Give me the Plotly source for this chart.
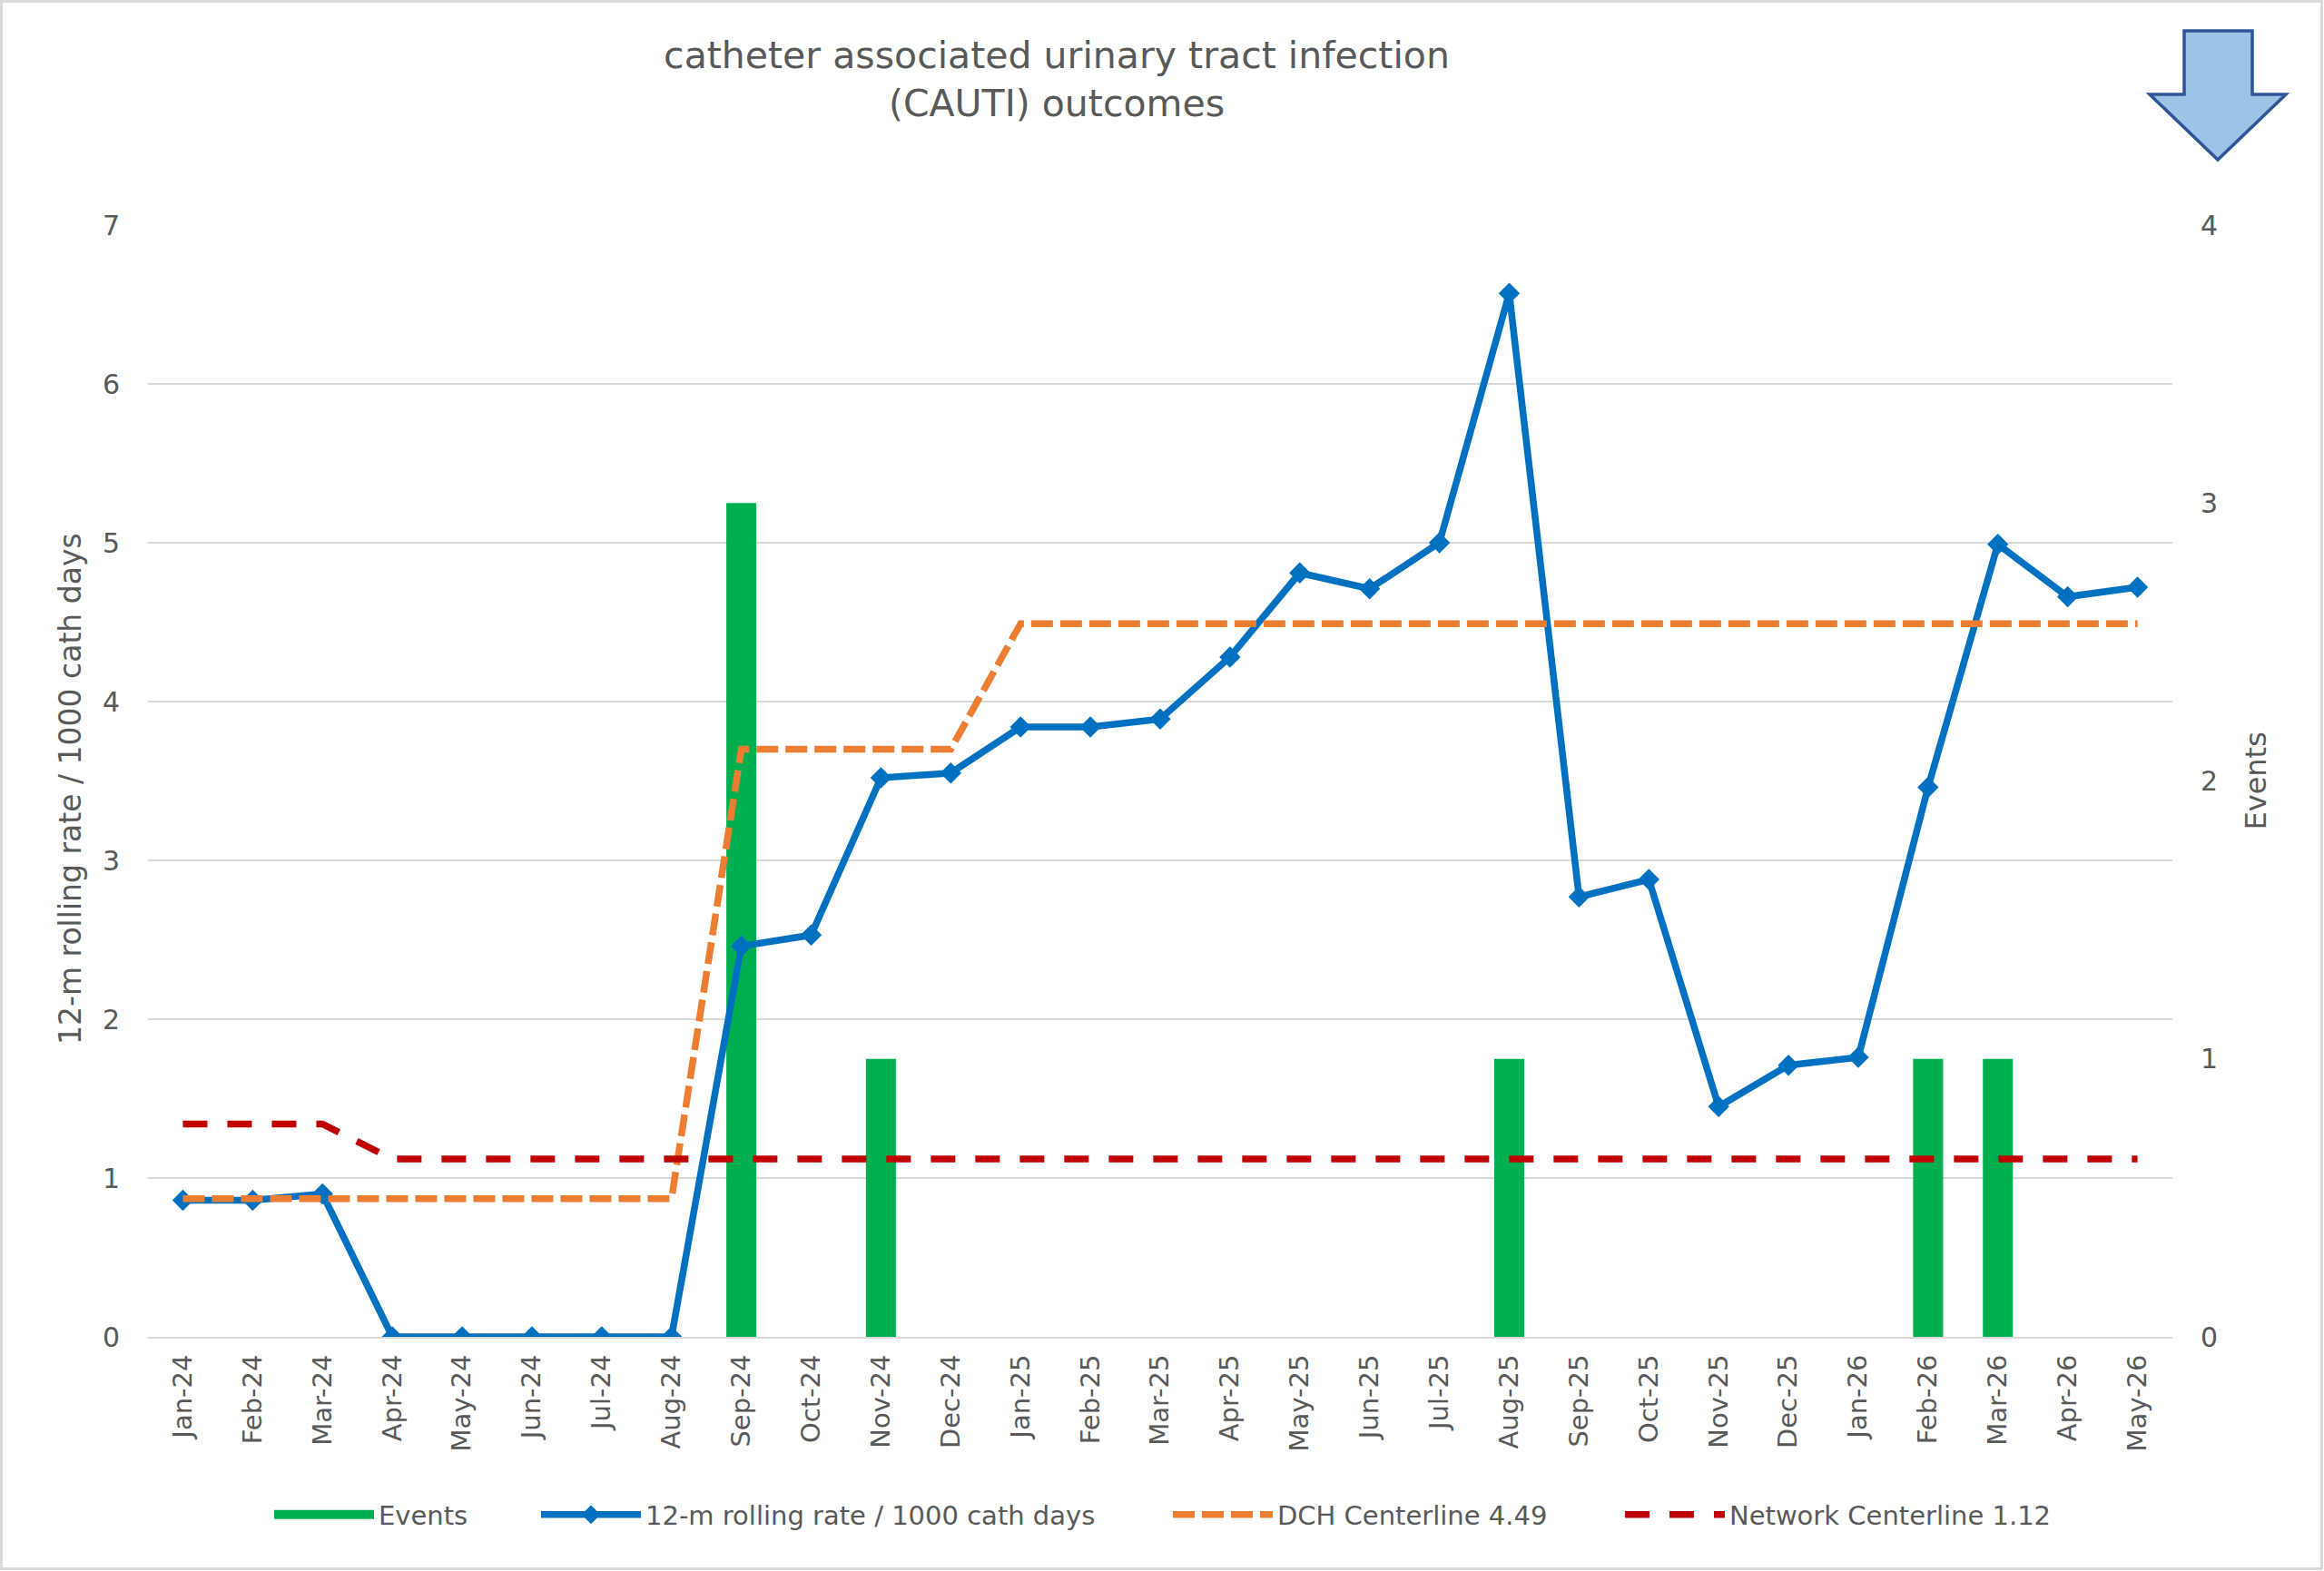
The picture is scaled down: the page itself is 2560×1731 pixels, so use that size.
import plotly.graph_objects as go

# ---------------- data ----------------
months = ["Jan-24", "Feb-24", "Mar-24", "Apr-24", "May-24", "Jun-24", "Jul-24", "Aug-24",
          "Sep-24", "Oct-24", "Nov-24", "Dec-24", "Jan-25", "Feb-25", "Mar-25", "Apr-25",
          "May-25", "Jun-25", "Jul-25", "Aug-25", "Sep-25", "Oct-25", "Nov-25", "Dec-25",
          "Jan-26", "Feb-26", "Mar-26", "Apr-26", "May-26"]
events = [0, 0, 0, 0, 0, 0, 0, 0, 3, 0, 1, 0, 0, 0, 0, 0,
          0, 0, 0, 1, 0, 0, 0, 0, 0, 1, 1, 0, 0]
rolling_rate = [0.86, 0.86, 0.90, 0.0, 0.0, 0.0, 0.0, 0.0,
                2.46, 2.53, 3.52, 3.55, 3.84, 3.84, 3.89, 4.28,
                4.81, 4.71, 5.00, 6.57, 2.77, 2.88, 1.45, 1.71,
                1.76, 3.46, 4.99, 4.66, 4.72]
dch_centerline = [0.87] * 8 + [3.70] * 4 + [4.49] * 17
network_centerline = [1.34] * 3 + [1.12] * 26

title_text = "catheter associated urinary tract infection<br>(CAUTI) outcomes"
left_title = "12-m rolling rate / 1000 cath days"
right_title = "Events"
names = ["Events", "12-m rolling rate / 1000 cath days", "DCH Centerline 4.49", "Network Centerline 1.12"]

# ---------------- layout geometry ----------------
W, H = 2560, 1731
L, R, T, B = 163, 2393, 248, 1473
PW, PH = R - L, B - T


def px2x(px):
    return (px - L) / PW


def px2y(py):
    return (B - py) / PH


GREY = "#595959"
FONT = "DejaVu Sans"
LEG_FONT = dict(family=FONT, size=29, color=GREY)
LEG_OFFSET = 8  # approx. distance from legend box edge to symbol start

fig = go.Figure()

# Bars on primary y (right side, Events) so the lines (overlaying axis) draw on top
fig.add_trace(go.Bar(
    x=months, y=events, name=names[0], yaxis="y", showlegend=False,
    marker=dict(color="#00B050", line=dict(width=0)), width=0.43,
))
# legend proxy for the bars (wide green block like the original key)
fig.add_trace(go.Scatter(
    x=[None], y=[None], name=names[0], yaxis="y", mode="lines", legend="legend",
    line=dict(color="#00B050", width=23), hoverinfo="skip",
))
fig.add_trace(go.Scatter(
    x=months, y=rolling_rate, name=names[1], yaxis="y2", mode="lines+markers", legend="legend2",
    line=dict(color="#0070C0", width=7.5),
    marker=dict(symbol="diamond", size=18, color="#0070C0"),
))
fig.add_trace(go.Scatter(
    x=months, y=dch_centerline, name=names[2], yaxis="y2", mode="lines", legend="legend3",
    line=dict(color="#ED7D31", width=7.5, dash="24px,8px"),
))
fig.add_trace(go.Scatter(
    x=months, y=network_centerline, name=names[3], yaxis="y2", mode="lines", legend="legend4",
    line=dict(color="#C00000", width=7.5, dash="27px,22px"),
))

# arrow decoration (pixel outline converted to paper coords)
arrow_px = [(2406, 34), (2481, 34), (2481, 104), (2518, 104), (2443, 176),
            (2368, 104), (2406, 104)]
path = "M " + " L ".join(f"{px2x(x):.5f},{px2y(y):.5f}" for x, y in arrow_px) + " Z"

shapes = [
    dict(type="rect", xref="paper", yref="paper",
         x0=px2x(1.5), x1=px2x(2557.5), y0=px2y(1728.5), y1=px2y(1.5),
         line=dict(color="#D9D9D9", width=3), fillcolor="rgba(0,0,0,0)", layer="below"),
    dict(type="path", xref="paper", yref="paper", path=path,
         fillcolor="#9DC3E6", line=dict(color="#2F5597", width=3.5)),
]

annotations = [
    dict(text=left_title, xref="paper", yref="paper", x=px2x(77), y=px2y(869),
         xanchor="center", yanchor="middle", textangle=-90, showarrow=False,
         font=dict(family=FONT, size=33, color=GREY)),
    dict(text=right_title, xref="paper", yref="paper", x=px2x(2484), y=0.5,
         xanchor="center", yanchor="middle", textangle=-90, showarrow=False,
         font=dict(family=FONT, size=32, color=GREY)),
]


def legend_at(px_start):
    return dict(orientation="h", x=px2x(px_start - LEG_OFFSET), xanchor="left",
                y=px2y(1669), yanchor="middle", font=LEG_FONT, itemwidth=110,
                bgcolor="rgba(0,0,0,0)", borderwidth=0)


fig.update_layout(
    width=W, height=H,
    margin=dict(l=L, r=W - R, t=T, b=H - B, autoexpand=False),
    paper_bgcolor="white", plot_bgcolor="white",
    font=dict(family=FONT, color=GREY),
    title=dict(text=title_text, x=1164 / W, xanchor="center", xref="container",
               y=1 - 75 / H, yref="container", yanchor="middle",
               font=dict(family=FONT, size=41, color=GREY)),
    barmode="overlay",
    showlegend=True,
    legend=legend_at(305),
    legend2=legend_at(599),
    legend3=legend_at(1295),
    legend4=legend_at(1793),
    xaxis=dict(type="category", categoryorder="array", categoryarray=months,
               range=[-0.5, len(months) - 0.5],
               tickangle=-90, tickfont=dict(family=FONT, size=29, color=GREY),
               showgrid=False, showline=True, linecolor="#D9D9D9", linewidth=2,
               ticks="", ticklabelstandoff=6, zeroline=False),
    yaxis=dict(side="right", range=[0, 4], dtick=1, showgrid=False, zeroline=False,
               tickfont=dict(family=FONT, size=30, color=GREY), ticks="",
               ticklabelstandoff=30),
    yaxis2=dict(overlaying="y", side="left", range=[0, 7], dtick=1,
                showgrid=True, gridcolor="#D9D9D9", gridwidth=2, zeroline=False,
                tickfont=dict(family=FONT, size=30, color=GREY), ticks="",
                ticklabelstandoff=30),
    shapes=shapes,
    annotations=annotations,
)

fig.write_html("out.html")
